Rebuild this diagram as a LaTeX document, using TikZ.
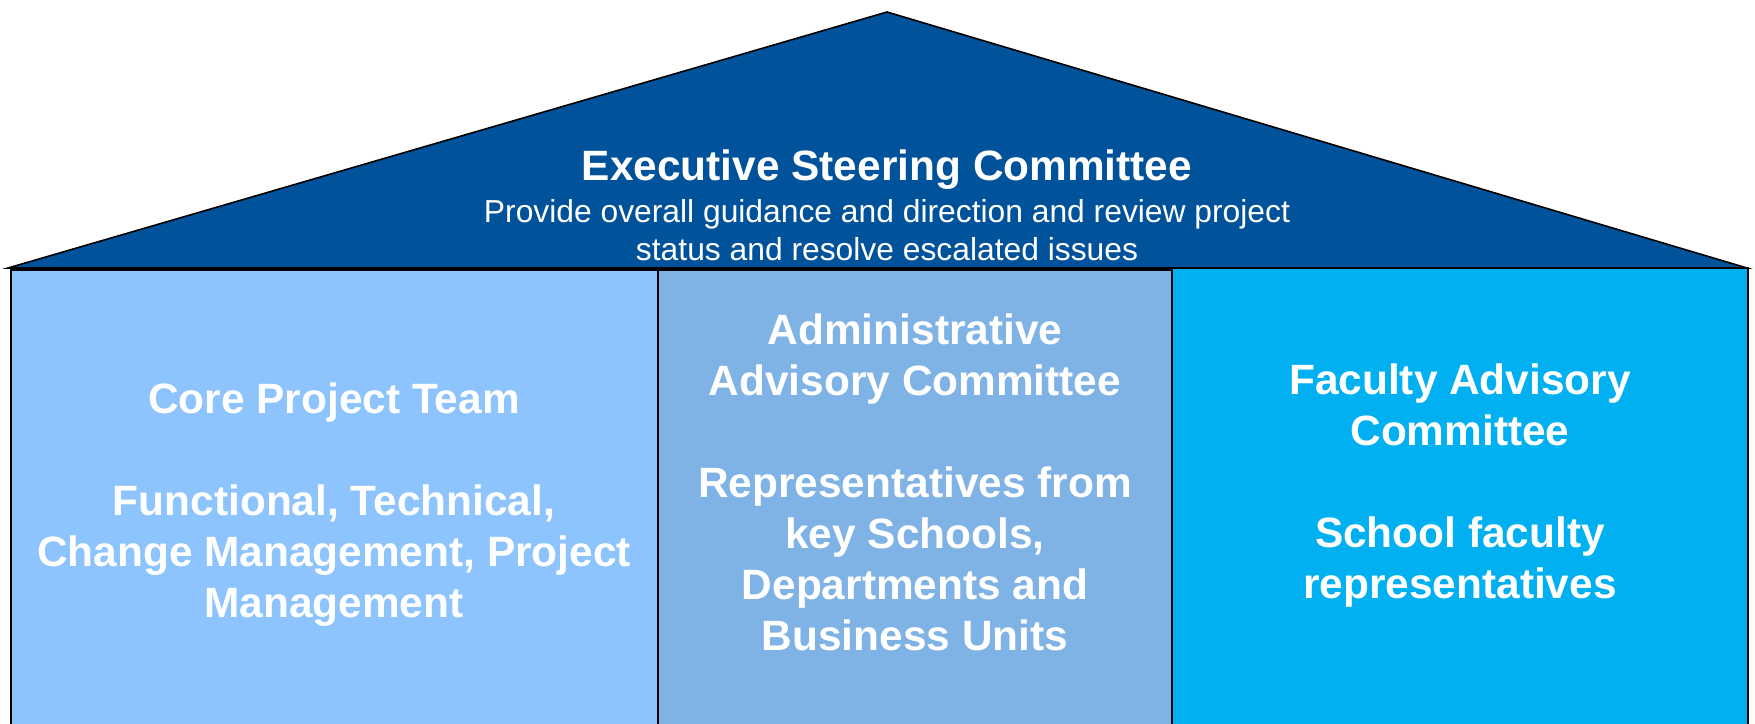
\documentclass[tikz,border=0pt]{standalone}
\usepackage{fontspec}
\setmainfont{Liberation Sans}
\definecolor{roofblue}{RGB}{0,82,155}
\definecolor{corecol}{RGB}{141,196,253}
\definecolor{admincol}{RGB}{127,178,229}
\definecolor{facultycol}{RGB}{0,176,240}

\begin{document}
\begin{tikzpicture}[x=0.5pt,y=-0.5pt,
    roof/.style={draw=black,line width=0.8pt,fill=roofblue},
    pillar/.style={draw=black,line width=1pt},
    headtext/.style={text=white,align=center,anchor=base,
      font=\bfseries\fontsize{21.2}{25.5}\selectfont},
    subtext/.style={text=white,align=center,anchor=base,
      font=\fontsize{15.9}{19}\selectfont}]
    \useasboundingbox (0,0) rectangle (1755,723);
    % roof
    \draw[roof] (8,268) -- (887,12) -- (1747,268) -- cycle;
    % the three pillars
    \draw[pillar,fill=corecol] (11,270) rectangle (658,730);
    \draw[pillar,fill=admincol] (658,270) rectangle (1172,730);
    \draw[pillar,fill=facultycol] (1172,268) rectangle (1748,730);
    % texts (base = baseline of the last line)
    \node[headtext] (esc) at (887,180) {Executive Steering Committee};
    \node[subtext] (escsub) at (887,260) {Provide overall guidance and direction and review project\\
      status and resolve escalated issues};
    \node[headtext] (core) at (334,617) {Core Project Team\\[25.5pt]
      Functional, Technical,\\ Change Management, Project\\ Management};
    \node[headtext] (admin) at (915,650) {Administrative\\ Advisory Committee\\[25.5pt]
      Representatives from\\ key Schools,\\ Departments and\\ Business Units};
    \node[headtext] (faculty) at (1460,598) {Faculty Advisory\\ Committee\\[25.5pt]
      School faculty\\ representatives};
\end{tikzpicture}
\end{document}
